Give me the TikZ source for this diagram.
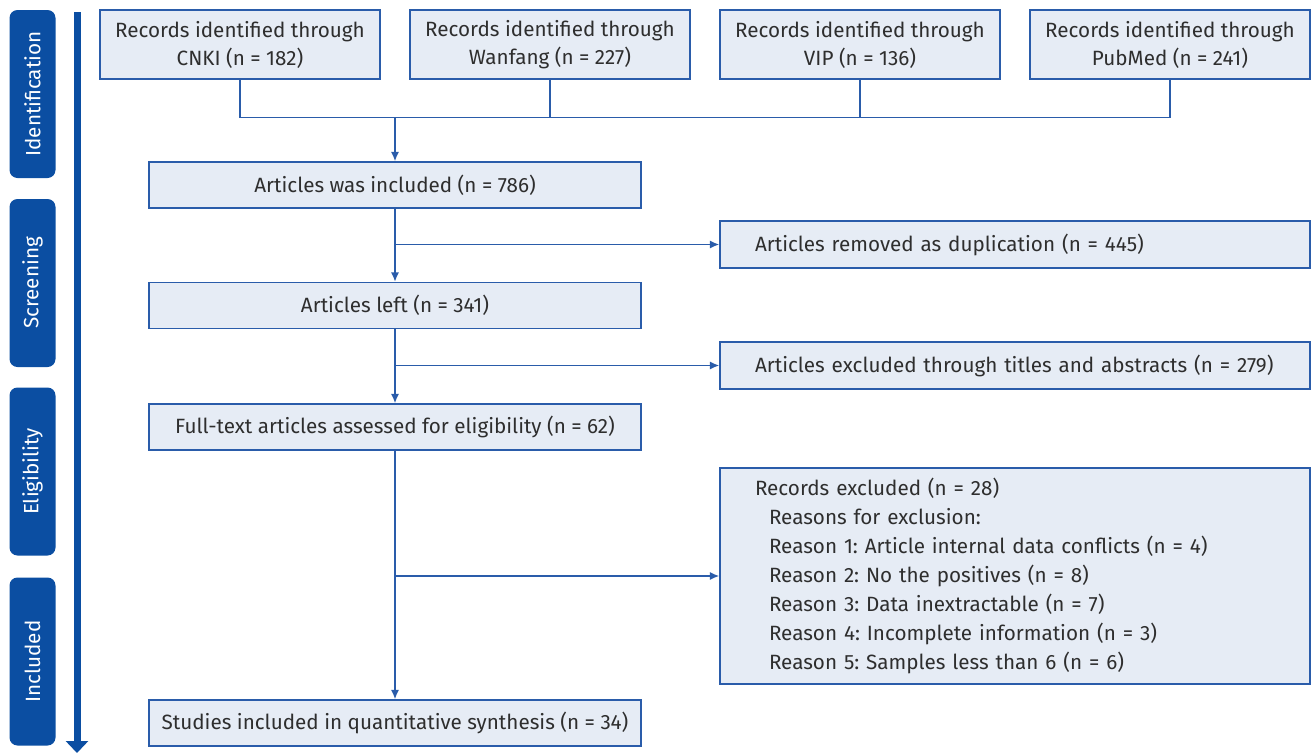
\documentclass[tikz,border=0pt]{standalone}
\usepackage{fontspec}
\setmainfont{Fira Sans}
\frenchspacing
\usetikzlibrary{arrows.meta}
\definecolor{navy}{HTML}{0B4EA2}
\definecolor{boxfill}{HTML}{E6ECF5}
\definecolor{boxline}{HTML}{2A5CAA}

\begin{document}
\begin{tikzpicture}[x=0.75pt,y=-0.75pt,
    b/.style={rectangle,draw=boxline,fill=boxfill,line width=1.1pt,inner sep=0pt,text=black!82,font=\fontsize{15.5}{21}\selectfont},
    top/.style={b,minimum width=210pt,minimum height=51.75pt,align=center},
    main/.style={b,minimum width=369pt,minimum height=34.5pt},
    side/.style={b,minimum height=35.25pt,inner xsep=26.25pt,text width=390pt,align=left},
    phase/.style={rectangle,rounded corners=6pt,fill=navy,minimum width=34.5pt,minimum height=126pt,text=white,font=\fontsize{15.5}{17}\selectfont},
    link/.style={draw=boxline,line width=1.1pt},
    flow/.style={link,-{Latex[length=7pt,width=6pt]}}]
    \useasboundingbox (0,0) rectangle (1312,753);

    % phases
    \node[phase] (p1) at (32.5,94) {\rotatebox{90}{Identification}};
    \node[phase] (p2) at (32.5,283) {\rotatebox{90}{Screening}};
    \node[phase] (p3) at (32.5,471.5) {\rotatebox{90}{Eligibility}};
    \node[phase] (p4) at (32.5,661.5) {\rotatebox{90}{Included}};
    \coordinate (t0) at (77,12);
    \coordinate (t1) at (77,753);
    \draw[navy,line width=5.25pt,-{Triangle[length=9pt,width=16.5pt]}] (t0) -- (t1);

    % sources
    \node[top] (r1) at (240,44.5) {Records identified through\\CNKI (n = 182)};
    \node[top] (r2) at (550,44.5) {Records identified through\\Wanfang (n = 227)};
    \node[top] (r3) at (860,44.5) {Records identified through\\VIP (n = 136)};
    \node[top] (r4) at (1170,44.5) {Records identified through\\PubMed (n = 241)};

    % main column
    \node[main] (inc) at (395,185) {Articles was included (n = 786)};
    \node[main] (left) at (395,305.5) {Articles left (n = 341)};
    \node[main] (full) at (395,427) {Full-text articles assessed for eligibility (n = 62)};
    \node[main] (incl) at (395,723) {Studies included in quantitative synthesis (n = 34)};

    % exclusions
    \node[side] (dup) at (1015,244.5) {Articles removed as duplication (n = 445)};
    \node[side] (ta) at (1015,365.5) {Articles excluded through titles and abstracts (n = 279)};
    \node[side,minimum height=162pt,font=\fontsize{15.5}{21.75}\selectfont] (excl) at (1015,576) {Records excluded (n = 28)\\
        \hspace*{10.5pt}Reasons for exclusion:\\
        \hspace*{10.5pt}Reason 1: Article internal data conflicts (n = 4)\\
        \hspace*{10.5pt}Reason 2: No the positives (n = 8)\\
        \hspace*{10.5pt}Reason 3: Data inextractable (n = 7)\\
        \hspace*{10.5pt}Reason 4: Incomplete information (n = 3)\\
        \hspace*{10.5pt}Reason 5: Samples less than 6 (n = 6)};

    % connectors
    \coordinate (join) at (395,117);
    \draw[link] (r1.south) -- ++(0,38) -| (r4.south);
    \draw[link] (r2.south) -- ++(0,38);
    \draw[link] (r3.south) -- ++(0,38);
    \draw[flow] (join) -- (inc.north);
    \draw[flow] (inc.south) -- (left.north);
    \draw[flow] (inc.south |- dup.west) -- (dup.west);
    \draw[flow] (left.south) -- (full.north);
    \draw[flow] (left.south |- ta.west) -- (ta.west);
    \draw[flow] (full.south) -- (incl.north);
    \draw[flow] (full.south |- excl.west) -- (excl.west);
\end{tikzpicture}
\end{document}
